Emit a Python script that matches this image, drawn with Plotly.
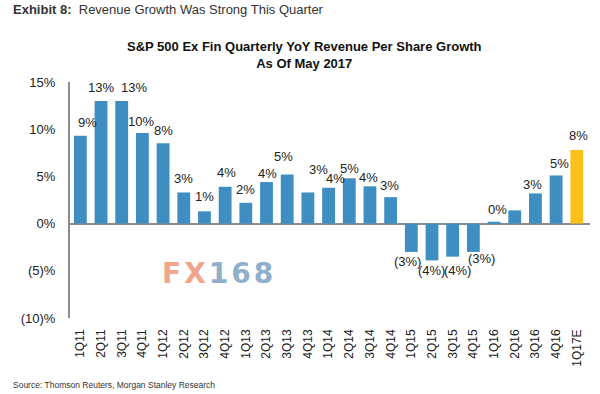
import plotly.graph_objects as go

categories = ["1Q11", "2Q11", "3Q11", "4Q11", "1Q12", "2Q12", "3Q12", "4Q12",
              "1Q13", "2Q13", "3Q13", "4Q13", "1Q14", "2Q14", "3Q14", "4Q14",
              "1Q15", "2Q15", "3Q15", "4Q15", "1Q16", "2Q16", "3Q16", "4Q16", "1Q17E"]
values = [9.3, 13.0, 13.0, 9.6, 8.5, 3.3, 1.3, 3.9,
          2.2, 4.4, 5.2, 3.3, 3.8, 4.8, 3.95, 2.8,
          -3.0, -3.9, -3.5, -3.0, 0.2, 1.4, 3.2, 5.1, 7.8]
labels = ["9%", "13%", "13%", "10%", "8%", "3%", "1%", "4%",
          "2%", "4%", "5%", "3%", "4%", "5%", "4%", "3%",
          "(3%)", "(4%)", "(4%)", "(3%)", "0%", "", "3%", "5%", "8%"]
y_ticks = [-10, -5, 0, 5, 10, 15]
y_tick_labels = ["(10)%", "(5)%", "0%", "5%", "10%", "15%"]

# Label placement style (pixel offsets of each data label from its bar end)
label_dx = [7.5, 0, 12, -1.3, 0, 0, 0, 1, 0, 1, -4, 10.5, 7, 0, -1, -0.7,
            -4, -1, 5, 8, 3, 0, -2.5, 3.7, 1.7]
label_dist = [13.3, 13.7, 13.7, 11.6, 13, 14.4, 14.4, 14.6, 13.7, 9, 17.7, 23, 9.4, 9.5, 8.4, 11.3,
              9.7, 10.5, 13.4, 6.7, 12.7, 0, 9, 12, 14]

BLUE = "#3E8EC2"
YELLOW = "#FDBF1A"
colors = [YELLOW if c.endswith("E") else BLUE for c in categories]

fig = go.Figure()
fig.add_trace(go.Bar(
    x=categories, y=values,
    marker=dict(color=colors, line=dict(width=0)),
    cliponaxis=False, width=0.62, hoverinfo="x+y",
))

for c, v, t, dx, d in zip(categories, values, labels, label_dx, label_dist):
    if not t:
        continue
    fig.add_annotation(
        x=c, y=v, xref="x", yref="y", text=t, showarrow=False,
        xanchor="center", yanchor="middle",
        xshift=dx, yshift=d if v >= 0 else -d,
        font=dict(family="Arial, Liberation Sans, sans-serif", size=13, color="#222222"),
    )

W, H = 600, 394
L, R, T, B = 70, 10, 82, 76

fig.update_layout(
    width=W, height=H,
    margin=dict(l=L, r=R, t=T, b=B, autoexpand=False),
    paper_bgcolor="white", plot_bgcolor="white",
    showlegend=False,
    font=dict(family="Arial, Liberation Sans, sans-serif", color="#222222"),
)
fig.update_xaxes(
    type="category", tickangle=-90, showgrid=False, showline=False,
    ticks="", ticklabelstandoff=8, automargin=False,
    tickfont=dict(size=12, color="#222222"),
)
fig.update_yaxes(
    range=[-10, 15], tickvals=y_ticks, ticktext=y_tick_labels,
    showgrid=False, showline=True, linecolor="#8C8C8C", linewidth=2,
    zeroline=True, zerolinecolor="#8C8C8C", zerolinewidth=2,
    ticks="", ticklabelstandoff=10, automargin=False,
    tickfont=dict(size=13, color="#222222"),
)

pw, ph = W - L - R, H - T - B
def px(x):
    return (x - L) / pw
def py(y):
    return (H - B - y) / ph

# Header texts
fig.add_annotation(
    x=px(11), y=py(10), xref="paper", yref="paper", xanchor="left", yanchor="middle",
    text="<b>Exhibit 8:</b>  Revenue Growth Was Strong This Quarter",
    font=dict(family="Liberation Sans Narrow, Arial Narrow, Arial, sans-serif", size=13, color="#333333"),
    showarrow=False,
)
fig.add_annotation(
    x=px(304), y=py(55), xref="paper", yref="paper", xanchor="center", yanchor="middle",
    text="<b>S&P 500 Ex Fin Quarterly YoY Revenue Per Share Growth</b><br><b>As Of May 2017</b>",
    showarrow=False,
    font=dict(family="Arial, Liberation Sans, sans-serif", size=13, color="#111111"),
)
fig.add_annotation(
    x=px(11), y=py(385), xref="paper", yref="paper", xanchor="left", yanchor="middle",
    text="Source: Thomson Reuters, Morgan Stanley Research",
    showarrow=False,
    font=dict(family="Liberation Sans Narrow, Arial Narrow, Arial, sans-serif", size=8.5, color="#333333"),
)
# Watermark
fig.add_annotation(
    x=px(160), y=py(273), xref="paper", yref="paper", xanchor="left", yanchor="middle",
    text="<b><span style='color:#F2A58A;letter-spacing:3px'>FX</span>"
         "<span style='color:#8FB0CB;letter-spacing:3px'>168</span></b>",
    showarrow=False,
    font=dict(family="DejaVu Sans, sans-serif", size=28),
)

fig.write_html("out.html", config={"displayModeBar": False},
               post_script="document.body.style.margin='0';")
